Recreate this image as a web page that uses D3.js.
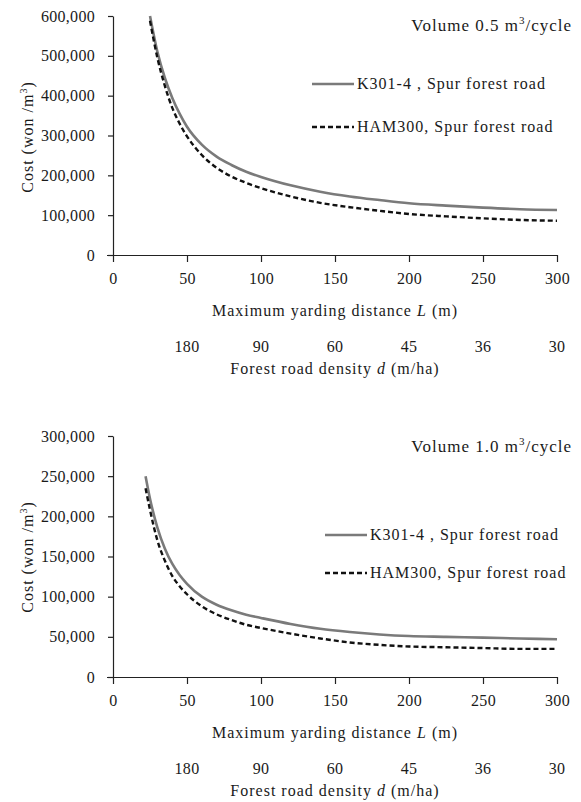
<!DOCTYPE html>
<html>
<head>
<meta charset="utf-8">
<script src="https://cdn.jsdelivr.net/npm/d3@7"></script>
<style>
  body { margin: 0; background: #fff; }
  text { font-family: "Liberation Serif", "DejaVu Serif", serif; fill: #1a1a1a; }
  .axis path, .axis line { stroke: #222; stroke-width: 1.2; }
  .axis text { font-size: 16px; font-family: "Liberation Serif", serif; fill: #1a1a1a; letter-spacing: 0.3px; }
  .lbl { letter-spacing: 1px; }
</style>
</head>
<body>
<script>
// yarding distance L (m)
var distance = [25, 30, 35, 40, 45, 50, 60, 70, 80, 90, 100, 120, 140, 160, 180, 200, 225, 250, 275, 300];
var distance1 = [22, 25, 30, 35, 40, 45, 50, 60, 70, 80, 90, 100, 120, 140, 160, 180, 200, 225, 250, 275, 300];

// volume 0.5 m3/cycle, cost in won/m3
var k301_05 = [600000, 510000, 445000, 395000, 355000, 322000, 277000, 247000, 226000, 209000, 196000, 175000, 159000, 147000, 138000, 130000, 124000, 119000, 115000, 113000];
var ham300_05 = [588000, 495000, 425000, 370000, 330000, 298000, 251000, 219000, 197000, 181000, 168000, 147000, 131000, 120000, 111000, 103000, 97000, 92000, 88000, 86000];

// volume 1.0 m3/cycle
var k301_10 = [250000, 222000, 186000, 160000, 141000, 127000, 116000, 100000, 90000, 83000, 77500, 73500, 66000, 60000, 56000, 53000, 51000, 50000, 49000, 48000, 47000];
var ham300_10 = [235000, 208000, 170000, 145000, 126000, 113000, 103000, 88000, 78000, 71000, 65000, 61000, 54000, 48000, 43000, 40000, 38000, 37000, 36000, 35000, 35000];

var xTicks = [0, 50, 100, 150, 200, 250, 300];
var densityAt = [50, 100, 150, 200, 250, 300];
var densityLabels = ["180", "90", "60", "45", "36", "30"];

var svg = d3.select("body").append("svg")
  .attr("width", 581)
  .attr("height", 802);

function panel(opt) {
  var x = d3.scaleLinear().domain([0, 300]).range([113, 557]);
  var y = d3.scaleLinear().domain([0, opt.yMax]).range([opt.y0, opt.yTop]);
  var g = svg.append("g");

  g.append("g")
    .attr("class", "axis")
    .attr("transform", "translate(113,0)")
    .call(d3.axisLeft(y).tickValues(d3.range(0, opt.yMax + 1, opt.yStep))
      .tickSize(5).tickSizeOuter(0).tickPadding(13)
      .tickFormat(d3.format(",")));

  var xa = g.append("g")
    .attr("class", "axis")
    .attr("transform", "translate(0," + opt.y0 + ")")
    .call(d3.axisBottom(x).tickValues(xTicks).tickSize(7).tickSizeOuter(0).tickPadding(11));
  // x axis line runs a little left of the y axis
  xa.select(".domain").attr("d", "M107,0.5H" + x(300));

  var line = d3.line()
    .x(function(d) { return x(d[0]); })
    .y(function(d) { return y(d[1]); })
    .curve(d3.curveMonotoneX);

  g.append("path")
    .datum(d3.zip(opt.L, opt.k301))
    .attr("fill", "none")
    .attr("stroke", "#7a7a7a")
    .attr("stroke-width", 2.6)
    .attr("d", line);

  g.append("path")
    .datum(d3.zip(opt.L, opt.ham))
    .attr("fill", "none")
    .attr("stroke", "#111")
    .attr("stroke-width", 2.4)
    .attr("stroke-dasharray", "5,3")
    .attr("d", line);

  // y label
  var yl = g.append("text")
    .attr("class", "lbl")
    .attr("transform", "translate(27," + opt.yLabelY + ") rotate(-90)")
    .attr("text-anchor", "middle")
    .attr("dy", "0.35em")
    .style("font-size", "16px");
  yl.append("tspan").text("Cost  (won /m");
  yl.append("tspan").attr("dy", -6).style("font-size", "10px").text("3");
  yl.append("tspan").attr("dy", 6).text(")");

  // x title
  var xt = g.append("text")
    .attr("class", "lbl")
    .attr("x", 335).attr("y", opt.y0 + 61)
    .attr("text-anchor", "middle")
    .style("font-size", "16px");
  xt.append("tspan").text("Maximum yarding distance ");
  xt.append("tspan").style("font-style", "italic").text("L");
  xt.append("tspan").text(" (m)");

  // density labels
  g.selectAll(".dens")
    .data(densityAt)
    .enter().append("text")
    .attr("x", function(d) { return x(d); })
    .attr("y", opt.y0 + 97)
    .attr("text-anchor", "middle")
    .style("font-size", "16px")
    .style("letter-spacing", "0.3px")
    .text(function(d, i) { return densityLabels[i]; });

  var dt = g.append("text")
    .attr("class", "lbl")
    .attr("x", 335).attr("y", opt.y0 + 119)
    .attr("text-anchor", "middle")
    .style("font-size", "16px");
  dt.append("tspan").text("Forest road density ");
  dt.append("tspan").style("font-style", "italic").text("d");
  dt.append("tspan").text(" (m/ha)");

  // panel title
  var t = g.append("text")
    .attr("class", "lbl")
    .attr("x", 572).attr("y", opt.titleY)
    .attr("text-anchor", "end")
    .style("font-size", "17px");
  t.append("tspan").text("Volume " + opt.volume + " m");
  t.append("tspan").attr("dy", -7).style("font-size", "11px").text("3");
  t.append("tspan").attr("dy", 7).text("/cycle");

  // legend
  var leg = [
    { name: "K301-4 , Spur forest road", color: "#7a7a7a", dash: null, w: 2.6 },
    { name: "HAM300, Spur forest road", color: "#111", dash: "5,3", w: 2.4 }
  ];
  leg.forEach(function(l, i) {
    var ly = opt.legendY + i * opt.legendGap;
    g.append("line")
      .attr("x1", opt.legendX).attr("x2", opt.legendX + 42)
      .attr("y1", ly).attr("y2", ly)
      .attr("stroke", l.color)
      .attr("stroke-width", l.w)
      .attr("stroke-dasharray", l.dash);
    g.append("text")
      .attr("class", "lbl")
      .attr("x", opt.legendX + 45).attr("y", ly + 5)
      .style("font-size", "16px")
      .text(l.name);
  });
}

panel({
  yMax: 600000, yStep: 100000, y0: 255, yTop: 16,
  L: distance, k301: k301_05, ham: ham300_05,
  volume: "0.5", titleY: 31, legendX: 312, legendY: 84, legendGap: 43,
  yLabelY: 137
});

panel({
  yMax: 300000, yStep: 50000, y0: 677, yTop: 436,
  L: distance1, k301: k301_10, ham: ham300_10,
  volume: "1.0", titleY: 452, legendX: 325, legendY: 535, legendGap: 38,
  yLabelY: 557
});
</script>
</body>
</html>
